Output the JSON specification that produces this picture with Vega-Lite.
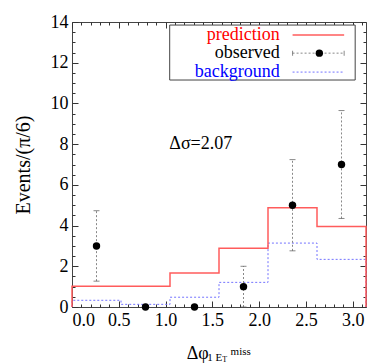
{
  "$schema": "https://vega.github.io/schema/vega-lite/v6.json",
  "width": 294,
  "height": 285,
  "autosize": {"type": "none"},
  "padding": {"left": 72, "top": 22, "right": 8, "bottom": 56},
  "background": "white",
  "config": {
    "view": {"stroke": "#444", "strokeWidth": 1},
    "font": "Liberation Serif",
    "axis": {"grid": false, "domain": false, "tickColor": "#333", "labelFont": "Liberation Serif", "labelFontSize": 18, "labelColor": "black", "titleFont": "Liberation Serif", "titleFontWeight": "normal", "titleFontSize": 20, "titleColor": "black", "zindex": 1}
  },
  "datasets": {
    "pred": [
      {"i": 0, "x": 0, "y": 0},
      {"i": 1, "x": 0, "y": 1.02},
      {"i": 2, "x": 0.5236, "y": 1.02},
      {"i": 3, "x": 1.0472, "y": 1.67},
      {"i": 4, "x": 1.5708, "y": 2.88},
      {"i": 5, "x": 2.0944, "y": 4.88},
      {"i": 6, "x": 2.618, "y": 3.96},
      {"i": 7, "x": 3.1416, "y": 3.96},
      {"i": 8, "x": 3.1416, "y": 0}
    ],
    "bkg": [
      {"i": 0, "x": 0, "y": 0},
      {"i": 1, "x": 0, "y": 0.33},
      {"i": 2, "x": 0.5236, "y": 0.13},
      {"i": 3, "x": 1.0472, "y": 0.48},
      {"i": 4, "x": 1.5708, "y": 1.21},
      {"i": 5, "x": 2.0944, "y": 3.14},
      {"i": 6, "x": 2.618, "y": 2.34},
      {"i": 7, "x": 3.1416, "y": 2.34},
      {"i": 8, "x": 3.1416, "y": 0}
    ],
    "obs": [
      {"x": 0.2618, "n": 3, "lo": 1.27, "hi": 4.73},
      {"x": 0.7854, "n": 0, "lo": 0, "hi": 0},
      {"x": 1.309, "n": 0, "lo": 0, "hi": 0},
      {"x": 1.8326, "n": 1, "lo": 0, "hi": 2},
      {"x": 2.3562, "n": 5, "lo": 2.76, "hi": 7.24},
      {"x": 2.8798, "n": 7, "lo": 4.35, "hi": 9.65}
    ]
  },
  "resolve": {"axis": {"x": "independent", "y": "independent"}},
  "layer": [
    {
      "data": {"name": "bkg"},
      "mark": {"type": "line", "interpolate": "step-after", "color": "#7373ff", "strokeWidth": 1, "strokeDash": [2, 2]},
      "encoding": {
        "x": {"field": "x", "type": "quantitative", "scale": {"domain": [0, 3.1416], "nice": false, "zero": false},
          "axis": {"orient": "top", "values": [0, 0.5, 1, 1.5, 2, 2.5, 3], "tickSize": -6, "labels": false, "title": null}},
        "y": {"field": "y", "type": "quantitative", "scale": {"domain": [0, 14], "nice": false},
          "axis": {"orient": "right", "values": [0, 2, 4, 6, 8, 10, 12, 14], "tickSize": -6, "labels": false, "title": null}},
        "order": {"field": "i"}
      }
    },
    {
      "data": {"name": "pred"},
      "mark": {"type": "line", "interpolate": "step-after", "color": "#ff5c5c", "strokeWidth": 1.5},
      "encoding": {
        "x": {"field": "x", "type": "quantitative",
          "axis": {"orient": "bottom", "values": [0, 0.5, 1, 1.5, 2, 2.5, 3], "tickSize": -6, "labelPadding": 10, "title": null}},
        "y": {"field": "y", "type": "quantitative",
          "axis": {"orient": "left", "values": [0, 2, 4, 6, 8, 10, 12, 14], "tickSize": -6, "labelPadding": 10, "title": "Events/(π/6)", "titlePadding": 17}},
        "order": {"field": "i"}
      }
    },
    {
      "data": {"name": "obs"},
      "mark": {"type": "rule", "color": "#888", "strokeWidth": 1, "strokeDash": [2, 2]},
      "encoding": {
        "x": {"field": "x", "type": "quantitative",
          "axis": {"orient": "bottom", "values": [0.1,0.2,0.3,0.4,0.6,0.7,0.8,0.9,1.1,1.2,1.3,1.4,1.6,1.7,1.8,1.9,2.1,2.2,2.3,2.4,2.6,2.7,2.8,2.9,3.1], "tickSize": -3, "labels": false, "title": null}},
        "y": {"field": "lo", "type": "quantitative",
          "axis": {"orient": "left", "values": [0.5,1,1.5,2.5,3,3.5,4.5,5,5.5,6.5,7,7.5,8.5,9,9.5,10.5,11,11.5,12.5,13,13.5], "tickSize": -3, "labels": false, "title": null}},
        "y2": {"field": "hi"}
      }
    },
    {
      "data": {"name": "obs"},
      "layer": [
        {"mark": {"type": "tick", "orient": "horizontal", "color": "#555", "size": 6, "thickness": 1}, "encoding": {"y": {"field": "lo", "type": "quantitative", "axis": null}}},
        {"mark": {"type": "tick", "orient": "horizontal", "color": "#555", "size": 6, "thickness": 1}, "encoding": {"y": {"field": "hi", "type": "quantitative", "axis": null}}}
      ],
      "encoding": {
        "x": {"field": "x", "type": "quantitative",
          "axis": {"orient": "top", "values": [0.1,0.2,0.3,0.4,0.6,0.7,0.8,0.9,1.1,1.2,1.3,1.4,1.6,1.7,1.8,1.9,2.1,2.2,2.3,2.4,2.6,2.7,2.8,2.9,3.1], "tickSize": -3, "labels": false, "title": null}}
      }
    },
    {
      "data": {"name": "obs"},
      "mark": {"type": "circle", "color": "black", "opacity": 1, "size": 55},
      "encoding": {
        "x": {"field": "x", "type": "quantitative", "axis": null},
        "y": {"field": "n", "type": "quantitative",
          "axis": {"orient": "right", "values": [0.5,1,1.5,2.5,3,3.5,4.5,5,5.5,6.5,7,7.5,8.5,9,9.5,10.5,11,11.5,12.5,13,13.5], "tickSize": -3, "labels": false, "title": null}}
      }
    },
    {
      "data": {"values": [{}]},
      "mark": {"type": "rect", "fill": "white", "stroke": "#444", "strokeWidth": 1},
      "encoding": {
        "x": {"datum": 1.044, "type": "quantitative", "axis": null}, "x2": {"datum": 3.026},
        "y": {"datum": 11.15, "type": "quantitative", "axis": null}, "y2": {"datum": 13.85}
      }
    },
    {
      "data": {"values": [{"label": "prediction", "k": 13.36}, {"label": "observed", "k": 12.47}, {"label": "background", "k": 11.54}]},
      "mark": {"type": "text", "align": "right", "baseline": "middle", "fontSize": 18, "font": "Liberation Serif"},
      "encoding": {
        "x": {"datum": 2.22, "type": "quantitative", "axis": null},
        "y": {"field": "k", "type": "quantitative", "axis": null},
        "text": {"field": "label"},
        "color": {"field": "label", "type": "nominal", "scale": {"domain": ["prediction", "observed", "background"], "range": ["#ff0000", "#000000", "#0000ff"]}, "legend": null}
      }
    },
    {
      "data": {"values": [{}]},
      "mark": {"type": "rule", "color": "#ff5c5c", "strokeWidth": 1.5},
      "encoding": {"x": {"datum": 2.357, "type": "quantitative", "axis": null}, "x2": {"datum": 2.908}, "y": {"datum": 13.36, "type": "quantitative", "axis": null}}
    },
    {
      "data": {"values": [{}]},
      "mark": {"type": "rule", "color": "#888", "strokeWidth": 1, "strokeDash": [2, 2]},
      "encoding": {"x": {"datum": 2.357, "type": "quantitative", "axis": null}, "x2": {"datum": 2.908}, "y": {"datum": 12.47, "type": "quantitative", "axis": null}}
    },
    {
      "data": {"values": [{"e": 2.357}, {"e": 2.908}]},
      "mark": {"type": "tick", "orient": "vertical", "color": "#555", "size": 5, "thickness": 1},
      "encoding": {"x": {"field": "e", "type": "quantitative", "axis": null}, "y": {"datum": 12.47, "type": "quantitative", "axis": null}}
    },
    {
      "data": {"values": [{}]},
      "mark": {"type": "circle", "color": "black", "opacity": 1, "size": 55},
      "encoding": {"x": {"datum": 2.643, "type": "quantitative", "axis": null}, "y": {"datum": 12.47, "type": "quantitative", "axis": null}}
    },
    {
      "data": {"values": [{}]},
      "mark": {"type": "rule", "color": "#7373ff", "strokeWidth": 1, "strokeDash": [2, 2]},
      "encoding": {"x": {"datum": 2.357, "type": "quantitative", "axis": null}, "x2": {"datum": 2.908}, "y": {"datum": 11.54, "type": "quantitative", "axis": null}}
    },
    {
      "data": {"values": [{}]},
      "mark": {"type": "text", "align": "left", "baseline": "middle", "fontSize": 18, "font": "Liberation Serif", "color": "black", "text": "Δσ=2.07"},
      "encoding": {"x": {"datum": 1.04, "type": "quantitative", "axis": null}, "y": {"datum": 8.0, "type": "quantitative", "axis": null}}
    },
    {
      "data": {"values": [{}]},
      "mark": {"type": "text", "align": "left", "baseline": "alphabetic", "fontSize": 18, "font": "Liberation Serif", "color": "black", "text": "Δφ"},
      "encoding": {"x": {"datum": 1.225, "type": "quantitative", "axis": null}, "y": {"datum": -2.55, "type": "quantitative", "axis": null}}
    },
    {
      "data": {"values": [{}]},
      "mark": {"type": "text", "align": "left", "baseline": "alphabetic", "fontSize": 11, "font": "Liberation Serif", "color": "black", "text": "1 E"},
      "encoding": {"x": {"datum": 1.445, "type": "quantitative", "axis": null}, "y": {"datum": -2.64, "type": "quantitative", "axis": null}}
    },
    {
      "data": {"values": [{}]},
      "mark": {"type": "text", "align": "left", "baseline": "alphabetic", "fontSize": 8, "font": "Liberation Serif", "color": "black", "text": "T"},
      "encoding": {"x": {"datum": 1.605, "type": "quantitative", "axis": null}, "y": {"datum": -2.7, "type": "quantitative", "axis": null}}
    },
    {
      "data": {"values": [{}]},
      "mark": {"type": "text", "align": "left", "baseline": "alphabetic", "fontSize": 11, "font": "Liberation Serif", "color": "black", "text": "miss"},
      "encoding": {"x": {"datum": 1.695, "type": "quantitative", "axis": null}, "y": {"datum": -2.36, "type": "quantitative", "axis": null}}
    }
  ]
}
